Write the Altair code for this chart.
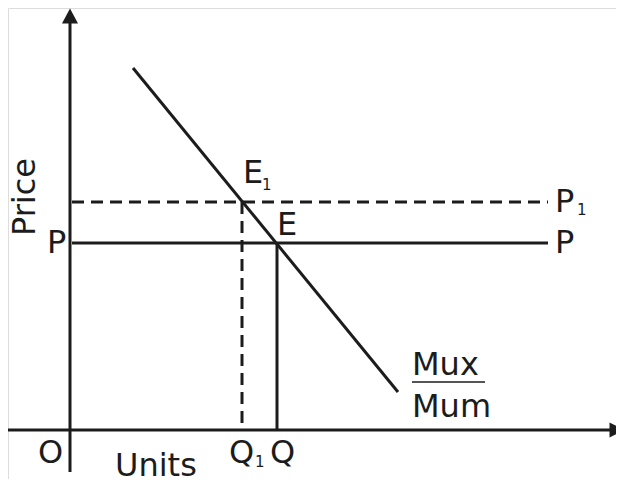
import altair as alt
import pandas as pd

# ---- data (diagram units: origin O at the axes' crossing) ----
# solid segments: x-axis, y-axis, demand curve Mux/Mum, price line P, quantity drop Q
solid_x1 = [-62, 0, 63, 2, 207]
solid_y1 = [0, -42, 362, 187, 187]
solid_x2 = [540, 0, 328, 478, 207]
solid_y2 = [0, 412, 38, 187, 0]

# dashed segments: price line P1, quantity drop Q1
dash_x1 = [2, 172]
dash_y1 = [228, 228]
dash_x2 = [478, 172]
dash_y2 = [228, 0]

# arrow heads
arrow_x = [0, 547]
arrow_y = [414, 0]
arrow_shape = ["M0,-1L1.07,1L-1.07,1Z", "M1,0L-1,1L-1,-1Z"]

# labels (left edge, baseline)
lab_text = ["P", "O", "Units", "Q", "1", "Q", "E", "1", "E", "P", "1", "P", "Mux", "Mum"]
lab_x = [-23, -32, 45, 159, 185, 200, 173, 192, 207, 485, 507, 485, 342, 342]
lab_y = [177, -33, -46, -33, -37, -33, 247, 240, 195, 218, 215, 177, 55, 13]
lab_size = [32, 32, 32, 32, 15, 32, 32, 15, 32, 32, 15, 32, 32, 32]

# fraction bar of Mux/Mum
frac_x1 = [342]
frac_x2 = [415]
frac_y = [48]

ylabel = "Price"
ylabel_x = -35
ylabel_y = 233

INK = "#1c1c1c"
FONT = "DejaVu Sans"

xs = alt.Scale(domain=[-62, 546], nice=False, zero=False)
ys = alt.Scale(domain=[-49, 422], nice=False, zero=False)

solid = pd.DataFrame({"x": solid_x1, "y": solid_y1, "x2": solid_x2, "y2": solid_y2})
dashed = pd.DataFrame({"x": dash_x1, "y": dash_y1, "x2": dash_x2, "y2": dash_y2})
arrows = pd.DataFrame({"x": arrow_x, "y": arrow_y, "shape": arrow_shape})
labels = pd.DataFrame({"x": lab_x, "y": lab_y, "t": lab_text, "s": lab_size})
frac = pd.DataFrame({"x": frac_x1, "x2": frac_x2, "y": frac_y})
yl = pd.DataFrame({"x": [ylabel_x], "y": [ylabel_y], "t": [ylabel]})

X = lambda f="x": alt.X(f, type="quantitative", scale=xs, axis=None)
Y = lambda f="y": alt.Y(f, type="quantitative", scale=ys, axis=None)

solid_layer = alt.Chart(solid).mark_rule(color=INK, strokeWidth=3).encode(
    x=X(), y=Y(), x2="x2", y2="y2")
dash_layer = alt.Chart(dashed).mark_rule(color=INK, strokeWidth=3, strokeDash=[12, 7]).encode(
    x=X(), y=Y(), x2="x2", y2="y2")
arrow_layer = alt.Chart(arrows).mark_point(filled=True, color=INK, opacity=1, size=225).encode(
    x=X(), y=Y(), shape=alt.Shape("shape:N", scale=None, legend=None))
text_layer = alt.Chart(labels).mark_text(align="left", baseline="alphabetic", font=FONT, color=INK).encode(
    x=X(), y=Y(), text="t:N", size=alt.Size("s:Q", scale=None, legend=None))
frac_layer = alt.Chart(frac).mark_rule(color="#555555", strokeWidth=2).encode(
    x=X(), x2="x2", y=Y())
ylabel_layer = alt.Chart(yl).mark_text(align="center", baseline="alphabetic", angle=270,
                                       font=FONT, fontSize=32, color=INK).encode(
    x=X(), y=Y(), text="t:N")

chart = alt.layer(solid_layer, dash_layer, arrow_layer, frac_layer, text_layer, ylabel_layer).properties(
    width=608, height=471, padding=0,
    autosize=alt.AutoSizeParams(type="none"),
).configure_view(stroke=None).configure(background="white")

chart.save("out.html", embed_options={"renderer": "svg", "actions": False})
